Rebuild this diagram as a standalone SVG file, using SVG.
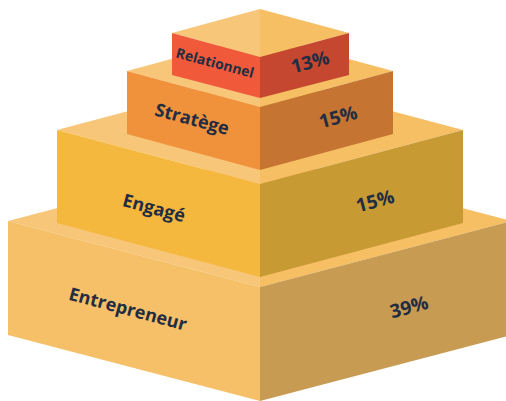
<svg xmlns="http://www.w3.org/2000/svg" width="506" height="401" viewBox="0 0 506 401">
<style>
.tl{fill:#F7C678}.tr{fill:#F6BF64}
.t{font-family:"Open Sans","Liberation Sans",sans-serif;font-weight:700;fill:#222D42;text-anchor:middle}
.p{font-size:19px}.l{font-size:18px}
</style>
<rect width="506" height="401" fill="#FFFFFF"/>
<g id="entrepreneur">
<polygon class="tl" points="8,221 260,155 260,287"/>
<polygon class="tr" points="260,155 512,221 260,287"/>
<polygon fill="#F6C068" points="8,221 260,287 260,401 8,335"/>
<polygon fill="#C79B52" points="260,287 512,221 512,335 260,401"/>
<text class="t l" transform="translate(128,309) rotate(15)" dy="0.35em">Entrepreneur</text>
<text class="t p" transform="translate(409,307) rotate(-15)" dy="0.35em">39%</text>
</g>
<g id="engage">
<polygon class="tl" points="57,130 260,76 260,184"/>
<polygon class="tr" points="260,76 463,130 260,184"/>
<polygon fill="#F5B83E" points="57,130 260,184 260,277 57,223"/>
<polygon fill="#C89A34" points="260,184 463,130 463,223 260,277"/>
<text class="t l" transform="translate(154,208) rotate(15)" dy="0.35em">Engagé</text>
<text class="t p" transform="translate(375,201) rotate(-15)" dy="0.35em">15%</text>
</g>
<g id="stratege">
<polygon class="tl" points="127,71 260,35 260,107"/>
<polygon class="tr" points="260,35 393,71 260,107"/>
<polygon fill="#F0913C" points="127,71 260,107 260,170 127,134"/>
<polygon fill="#C57431" points="260,107 393,71 393,134 260,170"/>
<text class="t l" transform="translate(192,119) rotate(15)" dy="0.35em">Stratège</text>
<text class="t p" transform="translate(338,117) rotate(-15)" dy="0.35em">15%</text>
</g>
<g id="relationnel">
<polygon class="tl" points="172,33 260,9 260,57"/>
<polygon class="tr" points="260,9 349,33 260,57"/>
<polygon fill="#F05A3B" points="172,33 260,57 260,98 172,75"/>
<polygon fill="#C5472F" points="260,57 349,33 349,75 260,98"/>
<text class="t" font-size="14" transform="translate(215,63) rotate(15)" dy="0.35em">Relationnel</text>
<text class="t p" transform="translate(310,62) rotate(-15)" dy="0.35em">13%</text>
</g>
<g id="connectors"/>
</svg>
